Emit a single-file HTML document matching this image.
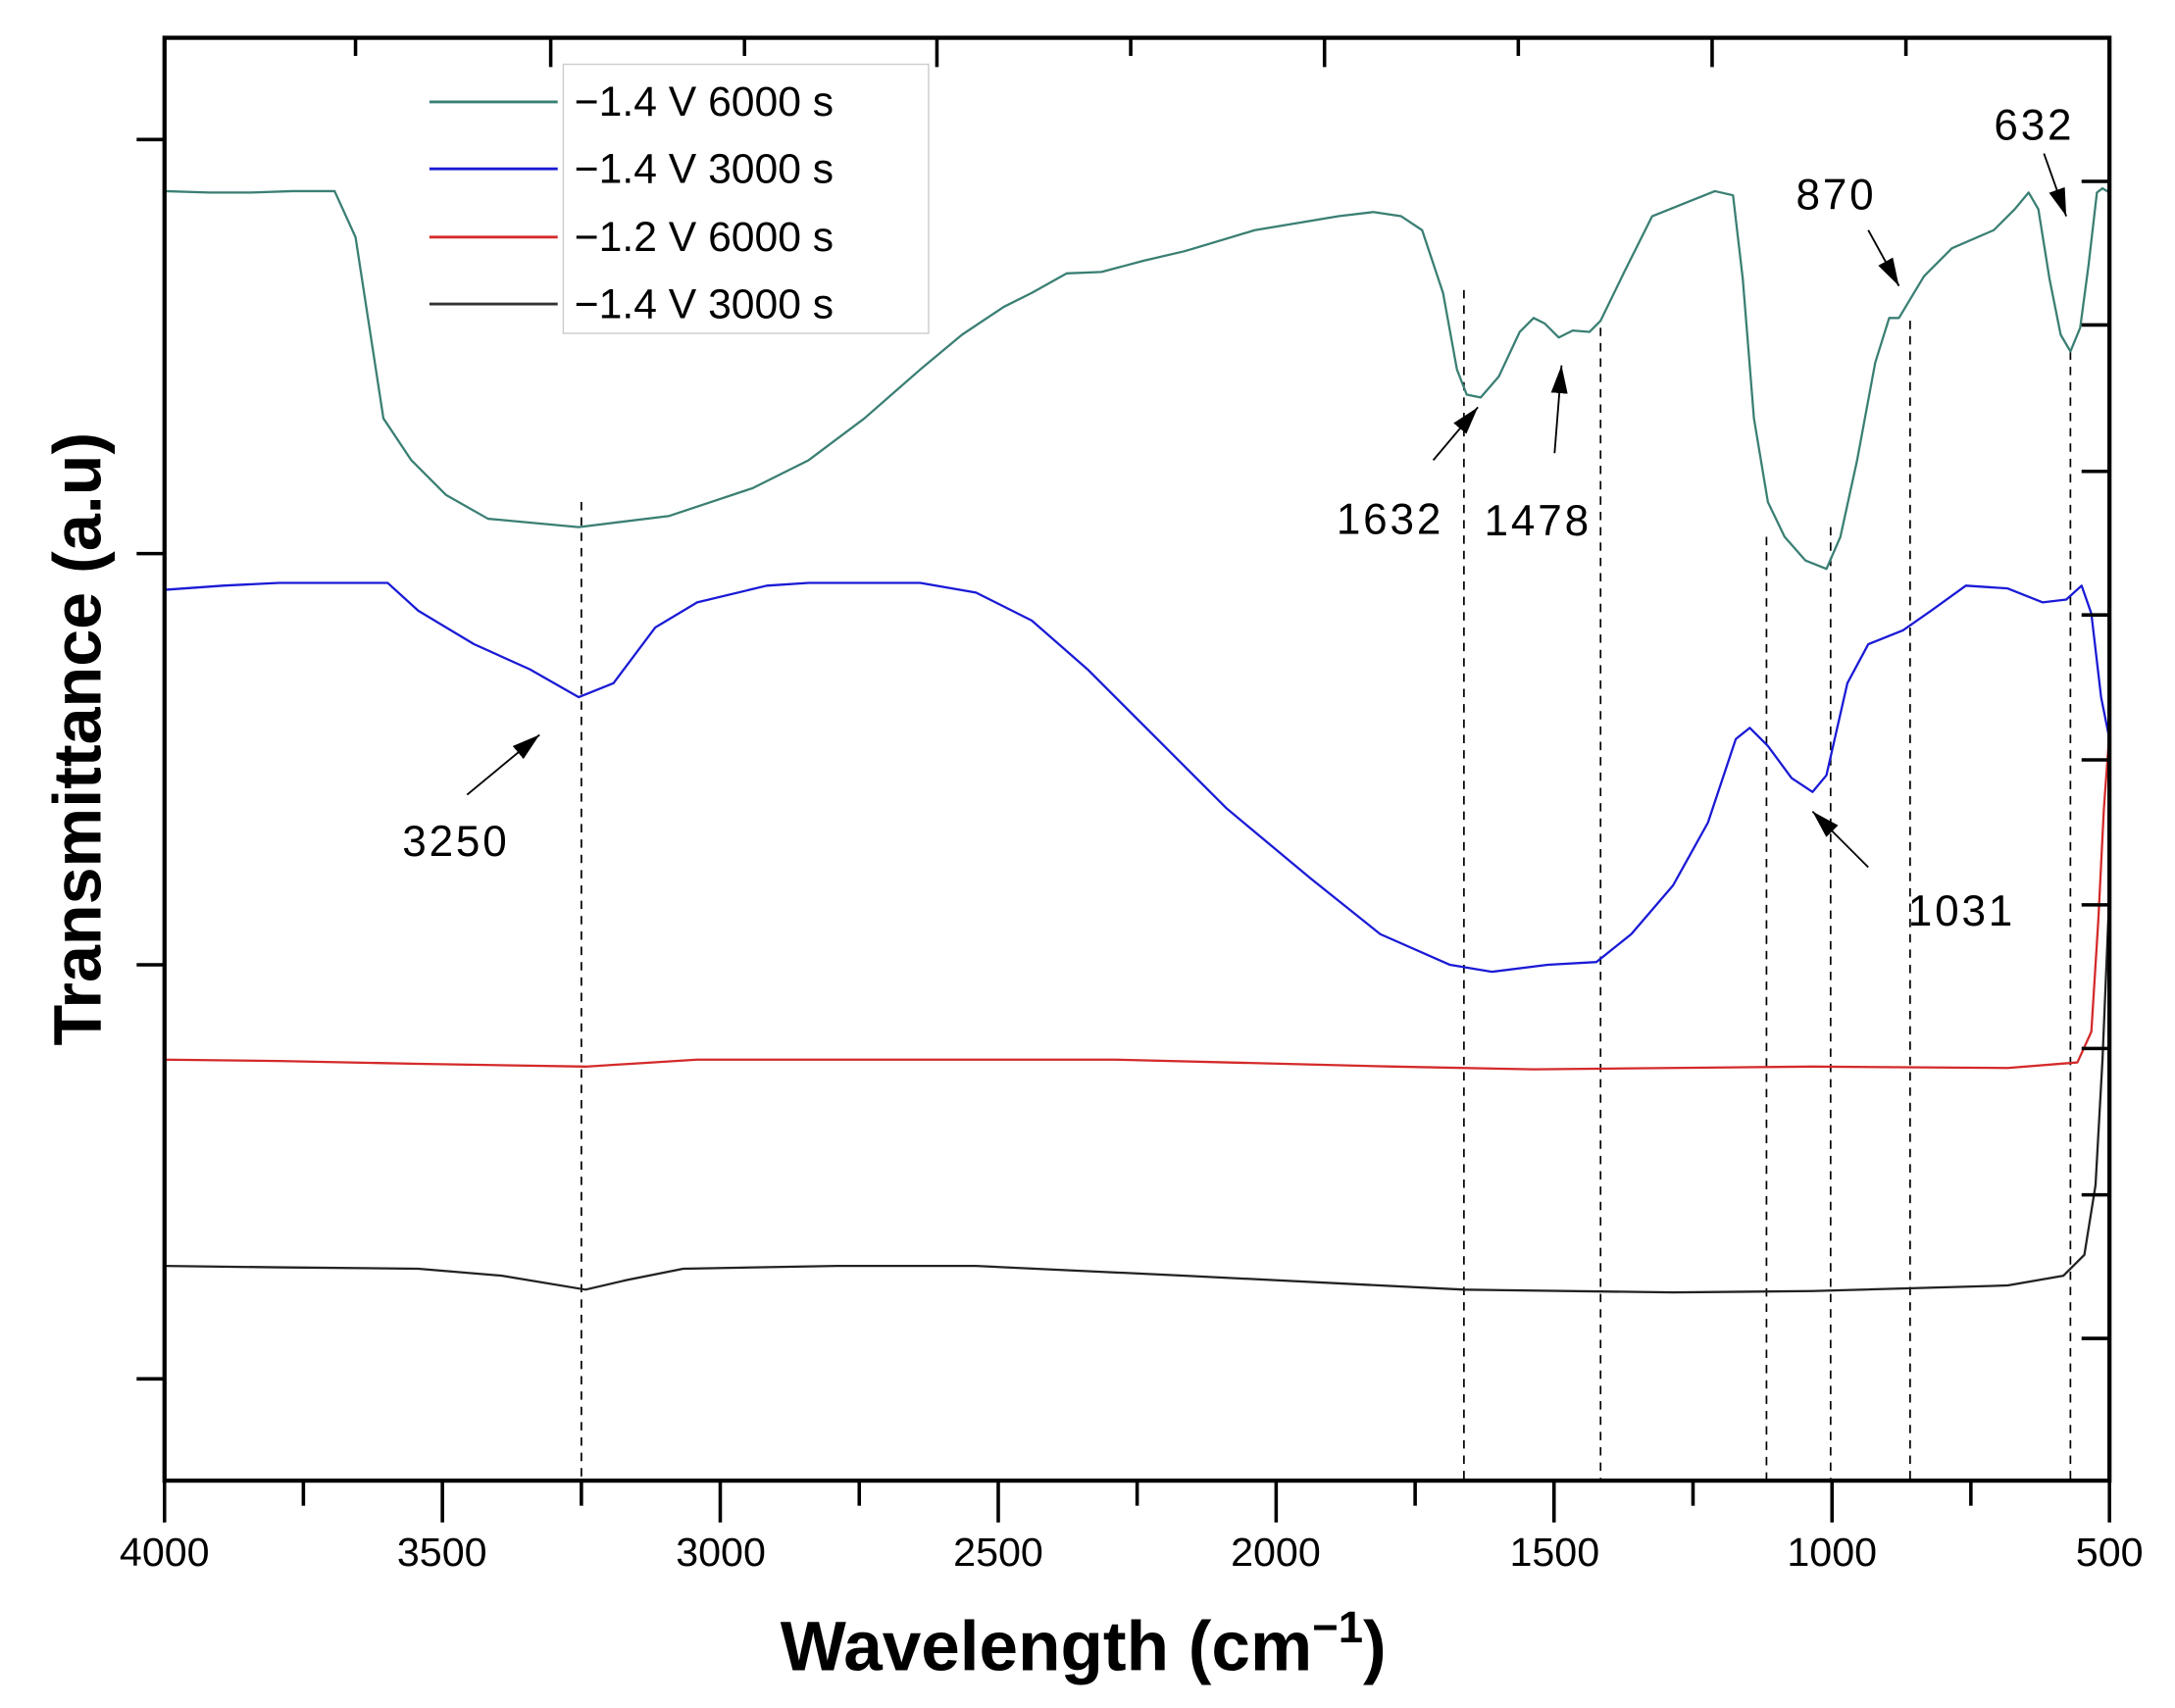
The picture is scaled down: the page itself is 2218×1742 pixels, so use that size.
<!DOCTYPE html>
<html><head><meta charset="utf-8"><style>
html,body{margin:0;padding:0;background:#fff}
svg{display:block}
text{font-family:"Liberation Sans",sans-serif}
</style></head><body>
<svg width="2218" height="1742" viewBox="0 0 1560 1225" xmlns="http://www.w3.org/2000/svg">
<defs><marker id="ah" markerWidth="10" markerHeight="10" refX="9" refY="5" orient="auto" markerUnits="userSpaceOnUse"><path d="M0,0 L18,5 L0,10 z" transform="scale(0.55,1)" fill="#000"/></marker>
<marker id="a2" viewBox="0 0 20 12" markerWidth="20" markerHeight="12" refX="20" refY="6" orient="auto" markerUnits="userSpaceOnUse"><path d="M0,0 L20,6 L0,12 z" fill="#000"/></marker></defs>
<!-- dashed lines -->
<g stroke="#000" stroke-width="1.2" stroke-dasharray="6,5" fill="none">
<line x1="417" y1="360" x2="417" y2="1062"/><line x1="1050" y1="208" x2="1050" y2="1062"/>
<line x1="1148" y1="235" x2="1148" y2="1062"/><line x1="1267" y1="385" x2="1267" y2="1062"/>
<line x1="1313" y1="378" x2="1313" y2="1062"/><line x1="1370" y1="230" x2="1370" y2="1062"/>
<line x1="1485" y1="252" x2="1485" y2="1062"/></g>
<!-- curves -->
<g fill="none" stroke-width="1.6" stroke-linejoin="round">
<polyline stroke="#3a7f73" points="118,137 150,138 180,138 210,137 240,137 255,170 275,300 295,330 320,355 350,372 415,378 480,370 540,350 580,330 620,300 660,265 690,240 720,220 740,210 765,196 790,195 820,187 850,180 900,165 960,155 985,152 1005,155 1020,165 1035,210 1045,265 1052,283 1062,285 1075,270 1090,238 1100,228 1108,232 1118,242 1128,237 1140,238 1148,230 1165,195 1185,155 1210,145 1230,137 1243,140 1250,200 1258,300 1268,360 1280,385 1295,402 1310,408 1320,385 1332,330 1345,260 1355,228 1362,228 1368,218 1380,198 1400,178 1430,165 1445,150 1455,138 1462,150 1470,200 1478,240 1485,252 1492,235 1498,190 1504,138 1508,135 1513,138"/>
<polyline stroke="#1a1ad6" points="118,423 160,420 200,418 278,418 300,438 340,462 380,480 415,500 440,490 470,450 500,432 550,420 580,418 660,418 700,425 740,445 780,480 830,530 880,580 940,630 990,670 1040,692 1070,697 1110,692 1145,690 1170,670 1200,635 1225,590 1245,530 1255,522 1268,535 1285,558 1300,568 1310,556 1325,490 1340,462 1365,452 1385,438 1410,420 1440,422 1465,432 1482,430 1493,420 1500,440 1507,500 1513,530"/>
<polyline stroke="#d42a2a" points="118,760 200,761 300,763 420,765 500,760 600,760 800,760 1000,765 1100,767 1300,765 1440,766 1490,762 1500,740 1505,660 1509,580 1513,525"/>
<polyline stroke="#222" points="118,908 200,909 300,910 360,915 420,925 450,918 490,910 600,908 700,908 850,915 1050,925 1200,927 1300,926 1440,922 1480,915 1495,900 1503,850 1508,760 1513,640"/>
</g>
<!-- frame -->
<rect x="118" y="27" width="1395" height="1035" fill="none" stroke="#000" stroke-width="3"/>
<g stroke="#000" stroke-width="2.5">
<line x1="118" y1="1062" x2="118" y2="1092"/><line x1="217.6" y1="1062" x2="217.6" y2="1080"/>
<line x1="317.3" y1="1062" x2="317.3" y2="1092"/><line x1="417" y1="1062" x2="417" y2="1080"/>
<line x1="516.6" y1="1062" x2="516.6" y2="1092"/><line x1="616.3" y1="1062" x2="616.3" y2="1080"/>
<line x1="716" y1="1062" x2="716" y2="1092"/><line x1="815.6" y1="1062" x2="815.6" y2="1080"/>
<line x1="915.3" y1="1062" x2="915.3" y2="1092"/><line x1="1015" y1="1062" x2="1015" y2="1080"/>
<line x1="1114.6" y1="1062" x2="1114.6" y2="1092"/><line x1="1214.3" y1="1062" x2="1214.3" y2="1080"/>
<line x1="1314" y1="1062" x2="1314" y2="1092"/><line x1="1413.6" y1="1062" x2="1413.6" y2="1080"/>
<line x1="1513" y1="1062" x2="1513" y2="1092"/>
<line x1="255" y1="27" x2="255" y2="40"/><line x1="395" y1="27" x2="395" y2="48"/>
<line x1="534" y1="27" x2="534" y2="40"/><line x1="672" y1="27" x2="672" y2="48"/>
<line x1="811" y1="27" x2="811" y2="40"/><line x1="950" y1="27" x2="950" y2="48"/>
<line x1="1089" y1="27" x2="1089" y2="40"/><line x1="1228" y1="27" x2="1228" y2="48"/>
<line x1="1367" y1="27" x2="1367" y2="40"/>
<line x1="98" y1="100" x2="118" y2="100"/><line x1="98" y1="397" x2="118" y2="397"/>
<line x1="98" y1="692" x2="118" y2="692"/><line x1="98" y1="989" x2="118" y2="989"/>
<line x1="1493" y1="130" x2="1513" y2="130"/><line x1="1493" y1="233" x2="1513" y2="233"/>
<line x1="1493" y1="338" x2="1513" y2="338"/><line x1="1493" y1="441" x2="1513" y2="441"/>
<line x1="1493" y1="545" x2="1513" y2="545"/><line x1="1493" y1="649" x2="1513" y2="649"/>
<line x1="1493" y1="752" x2="1513" y2="752"/><line x1="1493" y1="857" x2="1513" y2="857"/>
<line x1="1493" y1="960" x2="1513" y2="960"/>
</g>
<g font-size="29" text-anchor="middle" fill="#000">
<text x="118" y="1123">4000</text><text x="317" y="1123">3500</text><text x="517" y="1123">3000</text>
<text x="716" y="1123">2500</text><text x="915" y="1123">2000</text><text x="1115" y="1123">1500</text>
<text x="1314" y="1123">1000</text><text x="1513" y="1123">500</text></g>
<text x="777" y="1198" font-size="50" font-weight="bold" text-anchor="middle">Wavelength (cm<tspan font-size="32" dy="-20">−1</tspan><tspan dy="20">)</tspan></text>
<text transform="translate(72,530) rotate(-90)" font-size="48" font-weight="bold" text-anchor="middle">Transmittance (a.u)</text>
<!-- legend -->
<rect x="404" y="46" width="262" height="193" fill="#fff" stroke="#ccc" stroke-width="1"/>
<g stroke-width="2"><line x1="308" y1="73" x2="400" y2="73" stroke="#3a7f73"/>
<line x1="308" y1="121" x2="400" y2="121" stroke="#1a1ad6"/>
<line x1="308" y1="170" x2="400" y2="170" stroke="#d42a2a"/>
<line x1="308" y1="218" x2="400" y2="218" stroke="#333"/></g>
<g font-size="30" fill="#000"><text x="412" y="83">−1.4 V 6000 s</text><text x="412" y="131">−1.4 V 3000 s</text>
<text x="412" y="180">−1.2 V 6000 s</text><text x="412" y="228">−1.4 V 3000 s</text></g>
<!-- annotations -->
<g font-size="31" fill="#000" text-anchor="middle" letter-spacing="2">
<text x="997" y="383">1632</text><text x="1103" y="384">1478</text><text x="1317" y="150">870</text>
<text x="1459" y="100">632</text><text x="327" y="614">3250</text><text x="1407" y="664">1031</text></g>
<g stroke="#000" stroke-width="1.3" marker-end="url(#a2)">
<line x1="1028" y1="330" x2="1060" y2="292"/><line x1="1115" y1="325" x2="1120" y2="262"/>
<line x1="1340" y1="165" x2="1362" y2="205"/><line x1="1466" y1="110" x2="1482" y2="155"/>
<line x1="335" y1="570" x2="387" y2="527"/><line x1="1340" y1="622" x2="1300" y2="582"/></g>
</svg>
</body></html>
